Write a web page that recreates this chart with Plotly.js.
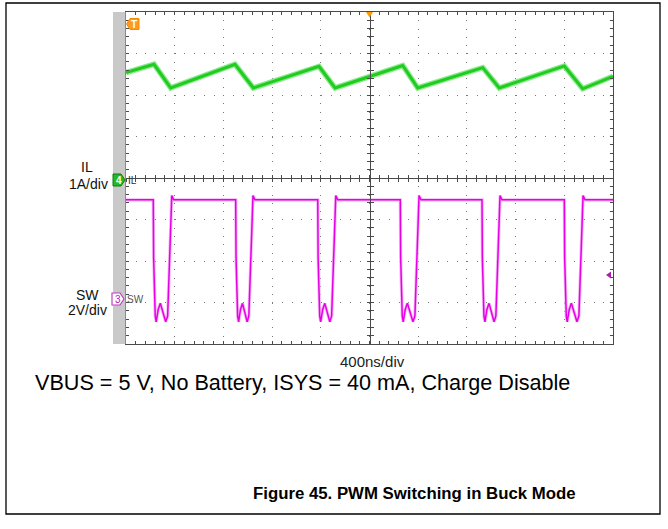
<!DOCTYPE html>
<html><head><meta charset="utf-8">
<script src="https://cdn.plot.ly/plotly-3.0.1.min.js"></script>
<style>html,body{margin:0;padding:0;background:#fff;} #chart{width:668px;height:529px;}</style>
</head><body><div id="chart"></div>
<script>
// ---- Data read from the scope capture ----
// Channel 4: inductor current IL (A), 1 A/div
const timeIL_ns   = [-2000, -1770, -1633, -1105, -954, -415, -283, 273, 396, 930, 1066, 1600, 1751, 2000];
const currentIL_A = [ 2.54,  2.74,  2.17,  2.74,  2.17, 2.69, 2.17, 2.71, 2.17, 2.66, 2.17, 2.70, 2.15, 2.45];

// Channel 3: switch node SW (V), 2 V/div
const timeSW_ns = [-2000,
  -1776, -1773, -1760, -1752, -1736, -1718, -1700, -1674, -1658, -1642, -1630, -1624, -1608,
  -1099, -1096, -1083, -1075, -1060, -1043, -1026, -1005, -991, -975, -963, -957, -941,
  -425, -422, -409, -401, -385, -367, -349, -326, -311, -295, -283, -277, -261,
  253, 256, 269, 277, 293, 311, 329, 357, 373, 389, 401, 407, 423,
  924, 927, 940, 948, 964, 982, 1000, 1023, 1038, 1054, 1066, 1072, 1088,
  1600, 1603, 1616, 1624, 1640, 1658, 1676, 1704, 1720, 1736, 1748, 1754, 1770,
  2000];
const voltageSW_V = [4.8,
  4.8, 2.0, -0.8, -1.08, -0.5, -0.19, -0.55, -1.08, -0.8, 2.0, 4.6, 5.0, 4.8,
  4.8, 2.0, -0.8, -1.08, -0.5, -0.19, -0.55, -1.08, -0.8, 2.0, 4.6, 5.0, 4.8,
  4.8, 2.0, -0.8, -1.08, -0.5, -0.19, -0.55, -1.08, -0.8, 2.0, 4.6, 5.0, 4.8,
  4.8, 2.0, -0.8, -1.08, -0.5, -0.19, -0.55, -1.08, -0.8, 2.0, 4.6, 5.0, 4.8,
  4.8, 2.0, -0.8, -1.08, -0.5, -0.19, -0.55, -1.08, -0.8, 2.0, 4.6, 5.0, 4.8,
  4.8, 2.0, -0.8, -1.08, -0.5, -0.19, -0.55, -1.08, -0.8, 2.0, 4.6, 5.0, 4.8,
  4.8];

const channelNames  = ['IL', 'SW'];
const channelScales = ['1A/div', '2V/div'];
const channelNums   = ['4', '3'];
const timebaseLabel = '400ns/div';
const conditionText = 'VBUS = 5 V, No Battery, ISYS = 40 mA, Charge Disable';
const captionText   = 'Figure 45. PWM Switching in Buck Mode';

// ---- Geometry helpers (pixel -> paper) ----
const L = 126, R = 613, T = 12, B = 344;
const px = x => (x - L) / (R - L);
const py = y => (B - y) / (B - T);
const path = pts => pts.map((p, i) => (i ? 'L' : 'M') + px(p[0]).toFixed(5) + ',' + py(p[1]).toFixed(5)).join(' ') + ' Z';

const FONT = '"Liberation Sans", Arial, sans-serif';
const gridCol = '#7a7a7a', lineCol = '#4a4a4a';

const traces = [
  {x: timeIL_ns, y: currentIL_A, mode: 'lines', line: {color: '#8fe98f', width: 5.5}, xaxis: 'x', yaxis: 'y'},
  {x: timeIL_ns, y: currentIL_A, mode: 'lines', line: {color: '#1fcc1f', width: 3}, xaxis: 'x', yaxis: 'y'},
  {x: timeSW_ns, y: voltageSW_V, mode: 'lines', line: {color: '#f6b8f6', width: 3.2}, xaxis: 'x', yaxis: 'y2'},
  {x: timeSW_ns, y: voltageSW_V, mode: 'lines', line: {color: '#e600e6', width: 1.5}, xaxis: 'x', yaxis: 'y2'},
  // empty traces that activate the centre-line graticule axes
  {x: [], y: [], mode: 'lines', xaxis: 'x2', yaxis: 'y'},
  {x: [], y: [], mode: 'lines', xaxis: 'x3', yaxis: 'y'},
  {x: [], y: [], mode: 'lines', xaxis: 'x', yaxis: 'y3'},
  {x: [], y: [], mode: 'lines', xaxis: 'x', yaxis: 'y4'}
];

const xr = [-2000, 2000], yr = [-4, 4];
const centreX = (ticks) => ({overlaying: 'x', anchor: 'free', position: 0.5, range: xr, dtick: 400, tick0: 0,
  showline: true, linecolor: lineCol, linewidth: 1, ticks: ticks, ticklen: 3, tickcolor: lineCol,
  minor: {dtick: 80, ticks: ticks, ticklen: 3, tickcolor: lineCol, showgrid: false},
  showticklabels: false, showgrid: false, zeroline: false, fixedrange: true});
const centreY = (ticks) => ({overlaying: 'y', anchor: 'free', position: 0.5, range: yr, dtick: 1, tick0: 0,
  showline: true, linecolor: lineCol, linewidth: 1, ticks: ticks, ticklen: 3, tickcolor: lineCol,
  minor: {dtick: 0.2, ticks: ticks, ticklen: 3, tickcolor: lineCol, showgrid: false},
  showticklabels: false, showgrid: false, zeroline: false, fixedrange: true});

const layout = {
  width: 668, height: 529, autosize: false,
  margin: {l: L, r: 668 - R, t: T, b: 529 - B, pad: 0},
  paper_bgcolor: '#ffffff', plot_bgcolor: '#ffffff',
  font: {family: FONT, color: '#000'},
  showlegend: false, hovermode: false,
  xaxis: {range: xr, dtick: 400, tick0: 0, showticklabels: false,
    ticks: 'inside', ticklen: 3, tickcolor: lineCol, showline: true, linecolor: lineCol, linewidth: 1, mirror: 'ticks',
    minor: {dtick: 80, ticks: 'inside', ticklen: 3, tickcolor: lineCol, showgrid: false},
    showgrid: true, gridcolor: gridCol, gridwidth: 1, griddash: '1px,7.3px',
    zeroline: false, fixedrange: true},
  yaxis: {range: yr, dtick: 1, tick0: 0, showticklabels: false,
    ticks: 'inside', ticklen: 3, tickcolor: lineCol, showline: true, linecolor: lineCol, linewidth: 1, mirror: 'ticks',
    minor: {dtick: 0.2, ticks: 'inside', ticklen: 3, tickcolor: lineCol, showgrid: false},
    showgrid: true, gridcolor: gridCol, gridwidth: 1, griddash: '1px,8.74px',
    zeroline: false, fixedrange: true},
  yaxis2: {overlaying: 'y', range: [-2.15, 13.85], showticklabels: false, ticks: '', showgrid: false,
    zeroline: false, showline: false, fixedrange: true},
  xaxis2: centreX('outside'), xaxis3: centreX('inside'),
  yaxis3: centreY('outside'), yaxis4: centreY('inside'),
  shapes: [
    {type: 'rect', xref: 'paper', yref: 'paper', x0: px(6), x1: px(660), y0: py(514), y1: py(3),
      line: {color: '#000', width: 1.3}, fillcolor: 'rgba(0,0,0,0)'},
    {type: 'rect', xref: 'paper', yref: 'paper', x0: px(113), x1: px(125.5), y0: py(344), y1: py(12),
      line: {width: 0}, fillcolor: '#c9c9c9'},
    {type: 'path', xref: 'paper', yref: 'paper', path: path([[113,174],[121,174],[125,180],[121,186],[113,186]]),
      fillcolor: '#24b824', line: {color: '#127a12', width: 1}},
    {type: 'path', xref: 'paper', yref: 'paper', path: path([[112,293],[120,293],[124,299],[120,305],[112,305]]),
      fillcolor: '#ffffff', line: {color: '#c23fc2', width: 1.2}},
    {type: 'path', xref: 'paper', yref: 'paper', path: path([[139,18.5],[130,18.5],[126.5,24],[130,29.5],[139,29.5]]),
      fillcolor: '#ff9a1e', line: {color: '#f58a00', width: 1}},
    {type: 'path', xref: 'paper', yref: 'paper', path: path([[366,12],[373,12],[369.5,17.5]]),
      fillcolor: '#ff9900', line: {width: 0}},
    {type: 'path', xref: 'paper', yref: 'paper', path: path([[606,275],[611,271.5],[611,278.5]]),
      fillcolor: '#a81fa8', line: {width: 0}}
  ],
  annotations: [
    {text: channelNames[0], x: px(87), y: py(167), xanchor: 'center', yanchor: 'middle', font: {size: 14, color: '#111'}},
    {text: channelScales[0], x: px(88), y: py(183.5), xanchor: 'center', yanchor: 'middle', font: {size: 14, color: '#111'}},
    {text: channelNames[1], x: px(87.3), y: py(294.5), xanchor: 'center', yanchor: 'middle', font: {size: 14, color: '#111'}},
    {text: channelScales[1], x: px(87.3), y: py(310), xanchor: 'center', yanchor: 'middle', font: {size: 14, color: '#111'}},
    {text: channelNums[0], x: px(118.5), y: py(180), xanchor: 'center', yanchor: 'middle', font: {size: 10, color: '#fff', weight: 'bold'}},
    {text: channelNums[1], x: px(117.5), y: py(299), xanchor: 'center', yanchor: 'middle', font: {size: 10, color: '#b522b5'}},
    {text: 'T', x: px(134), y: py(24), xanchor: 'center', yanchor: 'middle', font: {size: 10, color: '#fff', weight: 'bold'}},
    {text: channelNames[0], x: px(126.5), y: py(180), xanchor: 'left', yanchor: 'middle', font: {size: 10, color: '#333'}},
    {text: channelNames[1], x: px(126), y: py(299), xanchor: 'left', yanchor: 'middle', font: {size: 10, color: '#555'}},
    {text: timebaseLabel, x: px(372.5), y: py(361), xanchor: 'center', yanchor: 'middle', font: {size: 15, color: '#222'}},
    {text: conditionText, x: px(34), y: py(383), xanchor: 'left', yanchor: 'middle', font: {size: 21.6, color: '#000'}},
    {text: captionText, x: px(251.5), y: py(493), xanchor: 'left', yanchor: 'middle', font: {size: 16.8, color: '#000', weight: 'bold'}}
  ].map(a => Object.assign({xref: 'paper', yref: 'paper', showarrow: false, borderpad: 0}, a))
};

Plotly.newPlot('chart', traces, layout, {staticPlot: true, displayModeBar: false});
</script>
</body></html>
